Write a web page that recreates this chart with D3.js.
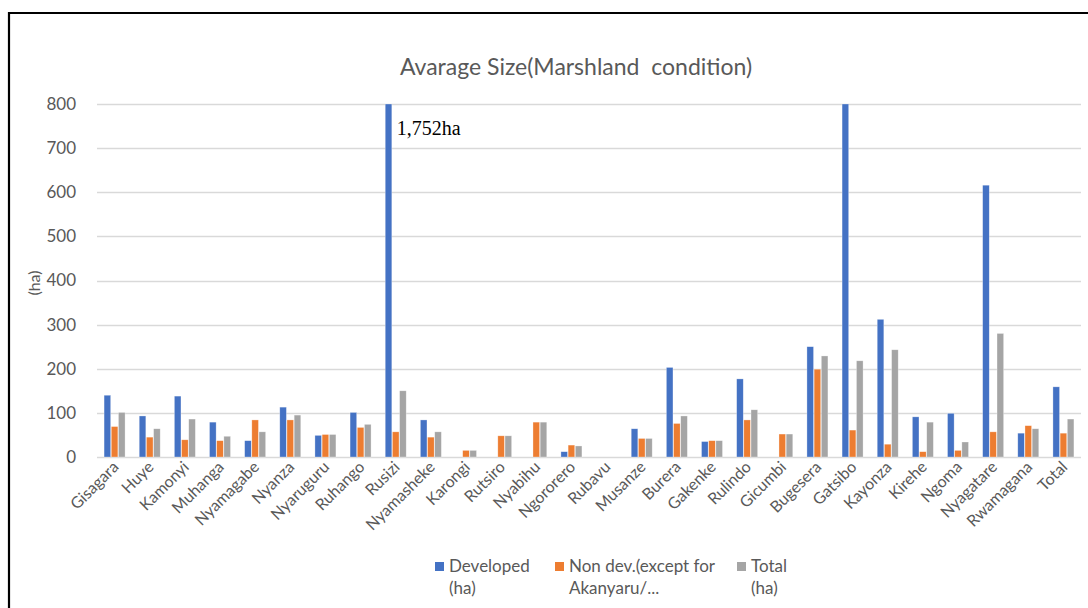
<!DOCTYPE html>
<html>
<head>
<meta charset="utf-8">
<script src="https://cdn.jsdelivr.net/npm/d3@7"></script>
<style>
  body { margin: 0; background: #fff; }
</style>
</head>
<body>
<svg width="1088" height="608"></svg>
<script>
// districts
const districts = ["Gisagara", "Huye", "Kamonyi", "Muhanga", "Nyamagabe", "Nyanza", "Nyaruguru",
  "Ruhango", "Rusizi", "Nyamasheke", "Karongi", "Rutsiro", "Nyabihu", "Ngororero", "Rubavu",
  "Musanze", "Burera", "Gakenke", "Rulindo", "Gicumbi", "Bugesera", "Gatsibo", "Kayonza",
  "Kirehe", "Ngoma", "Nyagatare", "Rwamagana", "Total"];

const developed = [140, 93, 138, 79, 37, 113, 49, 101, 1752, 84, 0, 0, 0, 12, 0,
  64, 203, 35, 177, 0, 250, 800, 312, 91, 99, 616, 54, 159];
const nonDev = [69, 45, 39, 37, 84, 84, 51, 67, 57, 45, 15, 48, 79, 27, 0,
  42, 76, 37, 84, 52, 199, 61, 29, 12, 15, 57, 71, 54];
const total = [101, 64, 86, 47, 57, 95, 51, 74, 150, 57, 15, 48, 79, 25, 0,
  42, 93, 37, 107, 52, 229, 218, 243, 79, 34, 280, 64, 86];

const seriesNames = ["Developed\n(ha)", "Non dev.(except for\nAkanyaru/...", "Total\n(ha)"];
const colors = ["#4472C4", "#ED7D31", "#A5A5A5"];
const yTicks = [0, 100, 200, 300, 400, 500, 600, 700, 800];

const font = "Lato, 'Open Sans', sans-serif";

let svg = d3.select("svg");

// outer frame
svg.append("path")
  .attr("d", "M9,608 V13 H1088")
  .attr("fill", "none")
  .attr("stroke", "#000")
  .attr("stroke-width", 2.2);

let x = d3.scaleBand().domain(districts).range([97, 1081]).paddingInner(0.37).paddingOuter(0.185);
let xs = d3.scaleBand().domain([0, 1, 2]).range([0, x.bandwidth()]).padding(0.08);
let y = d3.scaleLinear().domain([0, 800]).range([457, 104]);

// gridlines
svg.append("g")
  .selectAll("line")
  .data(yTicks)
  .enter()
  .append("line")
  .attr("x1", 97)
  .attr("x2", 1081)
  .attr("y1", d => Math.round(y(d)) + 0.5)
  .attr("y2", d => Math.round(y(d)) + 0.5)
  .attr("stroke", "#d9d9d9")
  .attr("stroke-width", 1.3);

// y axis labels
let yAxis = svg.append("g")
  .attr("transform", "translate(76,0)")
  .call(d3.axisLeft(y).tickValues(yTicks).tickSize(0).tickPadding(0));
yAxis.select(".domain").remove();
yAxis.selectAll("text")
  .attr("font-family", font)
  .attr("font-size", "17px")
  .attr("fill", "#595959");

// y title
svg.append("text")
  .attr("transform", "translate(40,283) rotate(-90)")
  .attr("text-anchor", "middle")
  .attr("font-family", font)
  .attr("font-size", "16px")
  .attr("fill", "#595959")
  .text("(ha)");

// title
svg.append("text")
  .attr("x", 576)
  .attr("y", 75)
  .attr("text-anchor", "middle")
  .attr("font-family", font)
  .attr("font-size", "23px")
  .attr("fill", "#595959")
  .style("white-space", "pre")
  .text("Avarage Size(Marshland  condition)");

// bars
let series = [developed, nonDev, total];
svg.append("g")
  .selectAll("g")
  .data(series)
  .enter()
  .append("g")
  .attr("fill", (d, i) => colors[i])
  .each(function(vals, si) {
    d3.select(this)
      .selectAll("rect")
      .data(vals.map((v, i) => ({ v: v, name: districts[i] })).filter(d => d.v > 0))
      .enter()
      .append("rect")
      .attr("x", d => x(d.name) + xs(si))
      .attr("width", xs.bandwidth())
      .attr("y", d => y(Math.min(d.v, 800)))
      .attr("height", d => y(0) - y(Math.min(d.v, 800)))
      .attr("stroke", "#fff")
      .attr("stroke-opacity", 0.5)
      .attr("stroke-width", 0.6);
  });

// annotation for clipped Rusizi bar
svg.append("text")
  .attr("x", x("Rusizi") + xs(0) + xs.bandwidth() + 5)
  .attr("y", 135)
  .attr("font-family", "'Liberation Serif', 'DejaVu Serif', serif")
  .attr("font-size", "20px")
  .attr("fill", "#000")
  .text(d3.format(",")(developed[districts.indexOf("Rusizi")]) + "ha");

// x labels
svg.append("g")
  .selectAll("text")
  .data(districts)
  .enter()
  .append("text")
  .attr("transform", d => "translate(" + (x(d) + x.bandwidth() / 2 + 5) + ",468) rotate(-45)")
  .attr("text-anchor", "end")
  .attr("font-family", font)
  .attr("font-size", "16px")
  .attr("fill", "#595959")
  .text(d => d);

// legend
let legendX = [435, 555, 737];
let legend = svg.append("g")
  .selectAll("g")
  .data(seriesNames)
  .enter()
  .append("g")
  .attr("transform", (d, i) => "translate(" + legendX[i] + ",0)");

legend.append("rect")
  .attr("x", 0)
  .attr("y", 562)
  .attr("width", 9)
  .attr("height", 9)
  .attr("fill", (d, i) => colors[i]);

legend.append("text")
  .attr("font-family", font)
  .attr("font-size", "17px")
  .attr("fill", "#595959")
  .selectAll("tspan")
  .data(d => d.split("\n"))
  .enter()
  .append("tspan")
  .attr("x", 14)
  .attr("y", (d, i) => 572 + i * 22)
  .text(d => d);
</script>
</body>
</html>
